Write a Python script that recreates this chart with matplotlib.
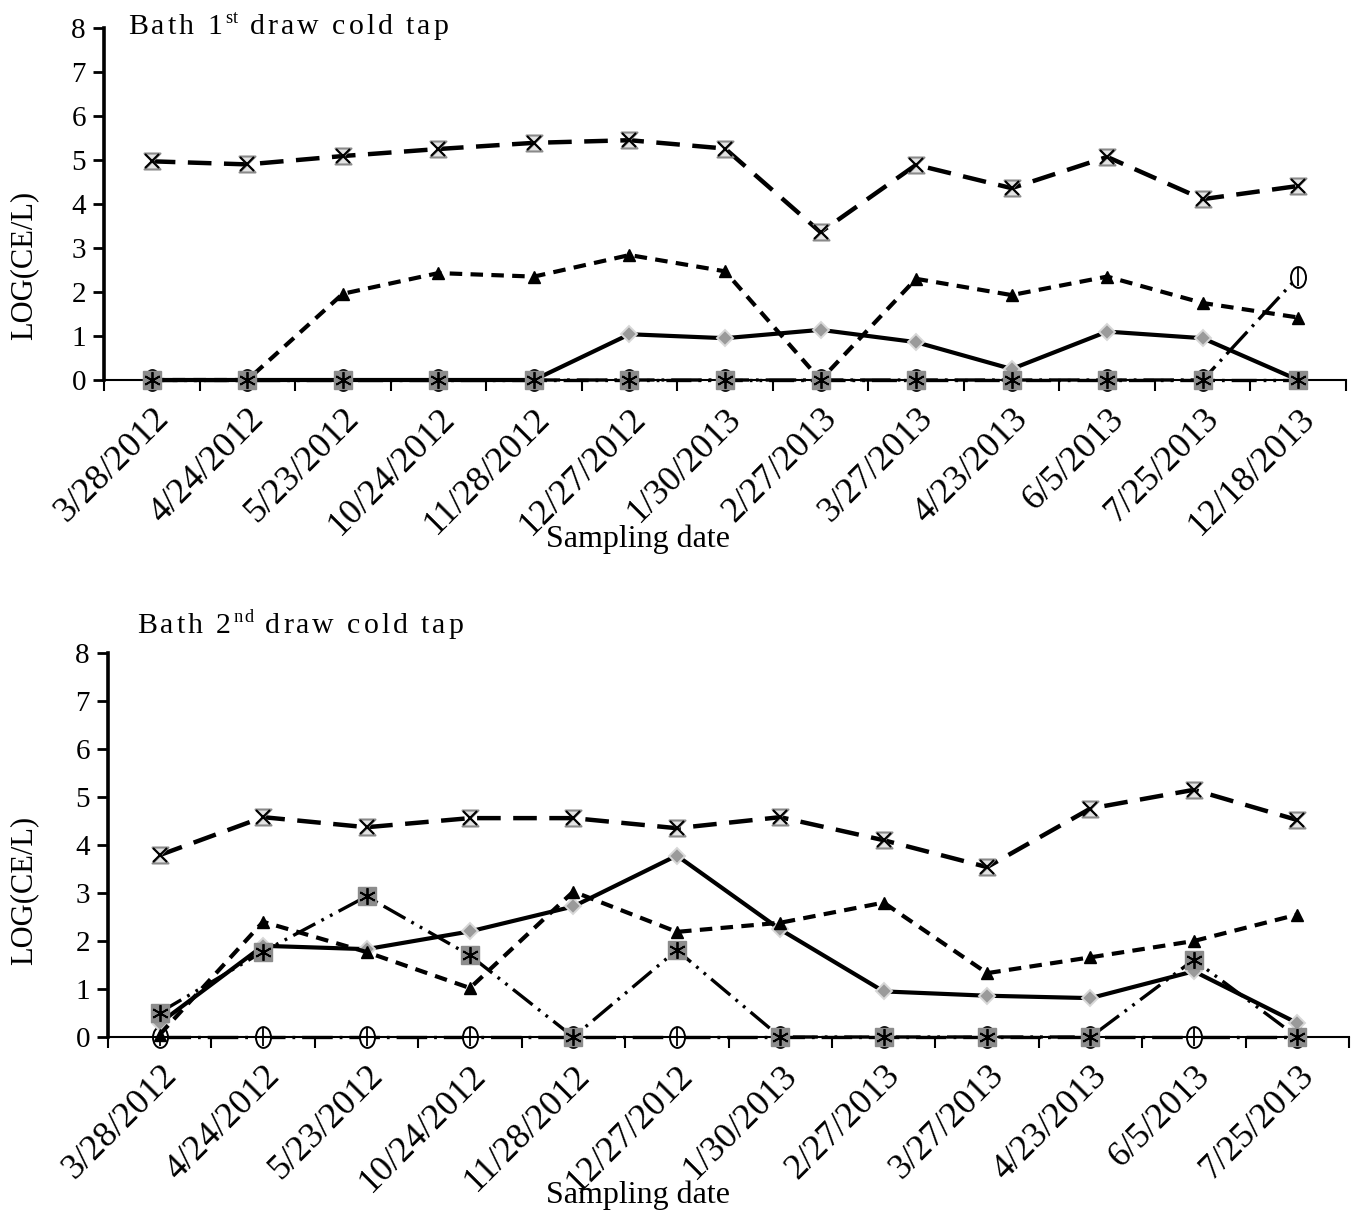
import matplotlib

matplotlib.use("Agg")
import matplotlib.pyplot as plt
from matplotlib.path import Path
from matplotlib.transforms import Affine2D

W, H = 1360, 1213

top_dates = ["3/28/2012", "4/24/2012", "5/23/2012", "10/24/2012", "11/28/2012", "12/27/2012",
             "1/30/2013", "2/27/2013", "3/27/2013", "4/23/2013", "6/5/2013", "7/25/2013", "12/18/2013"]
top_hourglass = [4.97, 4.9, 5.09, 5.25, 5.39, 5.45, 5.26, 3.36, 4.89, 4.36, 5.07, 4.11, 4.41]
top_triangle = [0, 0, 1.96, 2.43, 2.35, 2.84, 2.47, 0, 2.3, 1.93, 2.35, 1.75, 1.42]
top_diamond = [0, 0, 0, 0, 0, 1.04, 0.95, 1.14, 0.86, 0.25, 1.1, 0.95, 0]
top_circle = [0, 0, 0, 0, 0, 0, 0, 0, 0, 0, 0, 0, 2.35]
top_square = [0, 0, 0, 0, 0, 0, 0, 0, 0, 0, 0, 0, 0]

bot_dates = ["3/28/2012", "4/24/2012", "5/23/2012", "10/24/2012", "11/28/2012", "12/27/2012",
             "1/30/2013", "2/27/2013", "3/27/2013", "4/23/2013", "6/5/2013", "7/25/2013"]
bot_hourglass = [3.79, 4.58, 4.37, 4.56, 4.56, 4.35, 4.58, 4.1, 3.54, 4.76, 5.15, 4.52]
bot_triangle = [0.05, 2.4, 1.77, 1.02, 3.03, 2.19, 2.38, 2.8, 1.33, 1.66, 2.0, 2.55]
bot_diamond = [0.29, 1.9, 1.83, 2.2, 2.72, 3.78, 2.24, 0.95, 0.86, 0.81, 1.37, 0.29]
bot_circle = [0, 0, 0, 0, 0, 0, 0, 0, 0, 0, 0, 0]
bot_square = [0.51, 1.78, 2.93, 1.7, 0, 1.81, 0, 0, 0, 0, 1.61, 0]

plt.rcParams.update({
    "font.family": ["Liberation Serif", "DejaVu Serif"],
    "lines.scale_dashes": False,
})

HOURGLASS = Path([(-1, 1), (1, 1), (-1, -1), (1, -1), (-1, 1)],
                 [Path.MOVETO, Path.LINETO, Path.LINETO, Path.LINETO, Path.CLOSEPOLY])
ELLIPSE = Affine2D().scale(0.72, 1.0).transform_path(Path.unit_circle())


def draw_panel(ax, dates, hourglass, triangle, diamond, circle, square):
    x = list(range(len(dates)))
    common = dict(clip_on=False, solid_capstyle="butt", dash_capstyle="butt")
    # open circle, dash-dot
    ax.plot(x, circle, color="black", lw=2.4, dashes=(22, 5, 2, 5), zorder=2,
            marker=ELLIPSE, ms=15, mfc="white", mec="black", mew=1.4, **common)
    ax.plot(x, circle, ls="none", marker="|", ms=13, mec="black", mew=1.3, zorder=2, clip_on=False)
    # diamond, solid
    ax.plot(x, diamond, color="black", lw=3, zorder=3,
            marker="D", ms=8, mfc="#9a9a9a", mec="#d8d8d8", mew=1.4, **common)
    # triangle, short dash
    ax.plot(x, triangle, color="black", lw=3, dashes=(9, 6), zorder=4,
            marker="^", ms=9, mfc="black", mec="black", **common)
    # hourglass, long dash
    ax.plot(x, hourglass, color="black", lw=3.2, dashes=(17, 9), zorder=5,
            marker=HOURGLASS, ms=11.5, mfc="#e4e4e4", mec="#8a8a8a", mew=1.5, **common)
    ax.plot(x, hourglass, ls="none", marker="x", ms=10, mec="black", mew=1.5, zorder=5, clip_on=False)
    # gray square, dash-dot-dot
    ax.plot(x, square, color="black", lw=2.4, dashes=(18, 5, 2, 5, 2, 5), zorder=6,
            marker="s", ms=13, mfc="#8c8c8c", mec="#8c8c8c", **common)
    ax.plot(x, square, ls="none", marker=(6, 2, 0), ms=12, mec="black", mew=1.3, zorder=6, clip_on=False)

    n = len(dates)
    ax.set_xlim(-0.5, n - 0.5)
    ax.set_ylim(0, 8)
    ax.set_yticks(range(0, 9))
    ax.set_xticks([i - 0.5 for i in range(n + 1)])
    ax.set_xticklabels([])
    ax.set_xticks(x, minor=True)
    ax.set_xticklabels(dates, minor=True, rotation=45, ha="right", va="top",
                       rotation_mode="anchor", fontsize=26)
    ax.tick_params(axis="x", which="minor", length=0, pad=16)
    ax.tick_params(axis="x", which="major", direction="out", length=8, width=1.5)
    ax.tick_params(axis="y", direction="out", length=8, width=2, labelsize=21, pad=5)
    for side in ("top", "right"):
        ax.spines[side].set_visible(False)
    ax.spines["left"].set_linewidth(2.6)
    ax.spines["bottom"].set_linewidth(1.5)


def tracked_text(fig, x_px, y_px, pieces, size, track):
    renderer = fig.canvas.get_renderer()
    px_per_pt = fig.dpi / 72.0
    x = x_px
    for s, sup in pieces:
        fs = size * 0.62 if sup else size
        rise = size * 0.36 * px_per_pt if sup else 0.0
        gap = track * 0.4 if sup else track
        for ch in s:
            if ch == " ":
                x += 0.25 * size * px_per_pt + track
                continue
            t = fig.text(x / W, 1 - (y_px - rise) / H, ch, fontsize=fs, ha="left", va="baseline")
            x += t.get_window_extent(renderer).width + gap


fig = plt.figure(figsize=(W / 100, H / 100), dpi=100)
ax1 = fig.add_axes([104 / W, 1 - 380 / H, (1346 - 104) / W, 352 / H])
ax2 = fig.add_axes([108 / W, 1 - 1037 / H, (1349 - 108) / W, 384 / H])

draw_panel(ax1, top_dates, top_hourglass, top_triangle, top_diamond, top_circle, top_square)
draw_panel(ax2, bot_dates, bot_hourglass, bot_triangle, bot_diamond, bot_circle, bot_square)

for yc in (265, 890):
    fig.text(24 / W, 1 - yc / H, "LOG(CE/L)", rotation=90, fontsize=22, ha="center", va="center")
fig.text(638 / W, 1 - 547 / H, "Sampling date", fontsize=23, ha="center", va="baseline")
fig.text(638 / W, 1 - 1203 / H, "Sampling date", fontsize=23, ha="center", va="baseline")

tracked_text(fig, 128, 34, [("Bath 1", False), ("st", True), (" draw cold tap", False)], 21.5, 3.0)
tracked_text(fig, 137, 633, [("Bath 2", False), ("nd", True), (" draw cold tap", False)], 21.5, 3.0)

fig.savefig("out.png", dpi=100)
